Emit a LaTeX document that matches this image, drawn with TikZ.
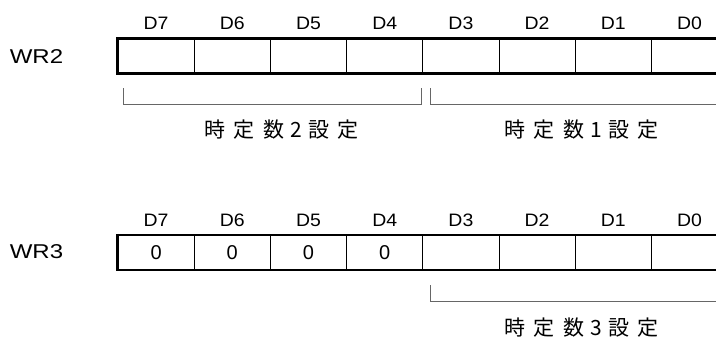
\documentclass[tikz,border=0pt]{standalone}
\usepackage{fontspec}
\setmainfont{Liberation Sans}
\newfontfamily\jpfont{Noto Sans CJK JP}
\newcommand\jsp{\hspace{8.5pt}}
\newcommand\jdsp{\hspace{6pt}}
\newcommand\wide[1]{\scalebox{1.2}[1]{#1}}
\newcommand\bitwide[1]{\scalebox{1.08}[1]{#1}}
\tikzset{
  cell/.style={draw, line width=1pt, minimum width=76.2pt, minimum height=34pt, inner sep=0pt, font=\fontsize{20}{20}\selectfont},
  bitlabel/.style={inner sep=0pt, font=\fontsize{18}{18}\selectfont},
  reglabel/.style={inner sep=0pt, font=\fontsize{20}{20}\selectfont},
  bracketline/.style={draw=black!60, line width=1pt},
  jplabel/.style={inner sep=0pt, font=\jpfont\fontsize{21}{21}\selectfont},
  outerline/.style={line width=2.2pt}
}
\begin{document}
\begin{tikzpicture}[x=1pt,y=-1pt]
\useasboundingbox (0,0) rectangle (716,338);
\clip (0,0) rectangle (716,338);
% register WR2
\node[reglabel] (wr2) at (36.5,57) {\wide{WR2}};
\foreach \i in {0,...,7}{
  \pgfmathtruncatemacro\b{7-\i}
  \node[cell] (a\b) at ({118+38.1+76.2*\i},56) {};
  \node[bitlabel] (da\b) at ({118+38.1+76.2*\i},23) {\bitwide{D\b}};
}
\draw[outerline] (a7.north west) -- (a0.north east);
\draw[outerline] (a7.south west) -- (a0.south east);
\draw[outerline] ([yshift=1.1pt]a7.north west) -- ([yshift=-1.1pt]a7.south west);
% brackets WR2
\coordinate (b1s) at (123,88);
\coordinate (b1e) at (421.7,88);
\coordinate (b2s) at (430.7,88);
\coordinate (b2e) at (730,104);
\draw[bracketline] (b1s) |- (b1e |- 0,104) -- (b1e);
\draw[bracketline] (b2s) |- (b2e);
\node[jplabel] (t2) at (281.5,130) {時\jsp 定\jsp 数\jdsp 2\jdsp 設\jsp 定};
\node[jplabel] (t1) at (581.5,130) {時\jsp 定\jsp 数\jdsp 1\jdsp 設\jsp 定};
% register WR3
\node[reglabel] (wr3) at (36.5,252) {\wide{WR3}};
\foreach \i in {0,...,7}{
  \pgfmathtruncatemacro\b{7-\i}
  \node[cell] (c\b) at ({118+38.1+76.2*\i},252.5) {\ifnum\i<4 0\fi};
  \node[bitlabel] (dc\b) at ({118+38.1+76.2*\i},220) {\bitwide{D\b}};
}
\draw[outerline] (c7.north west) -- (c0.north east);
\draw[outerline] (c7.south west) -- (c0.south east);
\draw[outerline] ([yshift=1.1pt]c7.north west) -- ([yshift=-1.1pt]c7.south west);
\coordinate (b3s) at (430.7,285);
\coordinate (b3e) at (730,301);
\draw[bracketline] (b3s) |- (b3e);
\node[jplabel] (t3) at (581.5,328) {時\jsp 定\jsp 数\jdsp 3\jdsp 設\jsp 定};
\end{tikzpicture}
\end{document}
